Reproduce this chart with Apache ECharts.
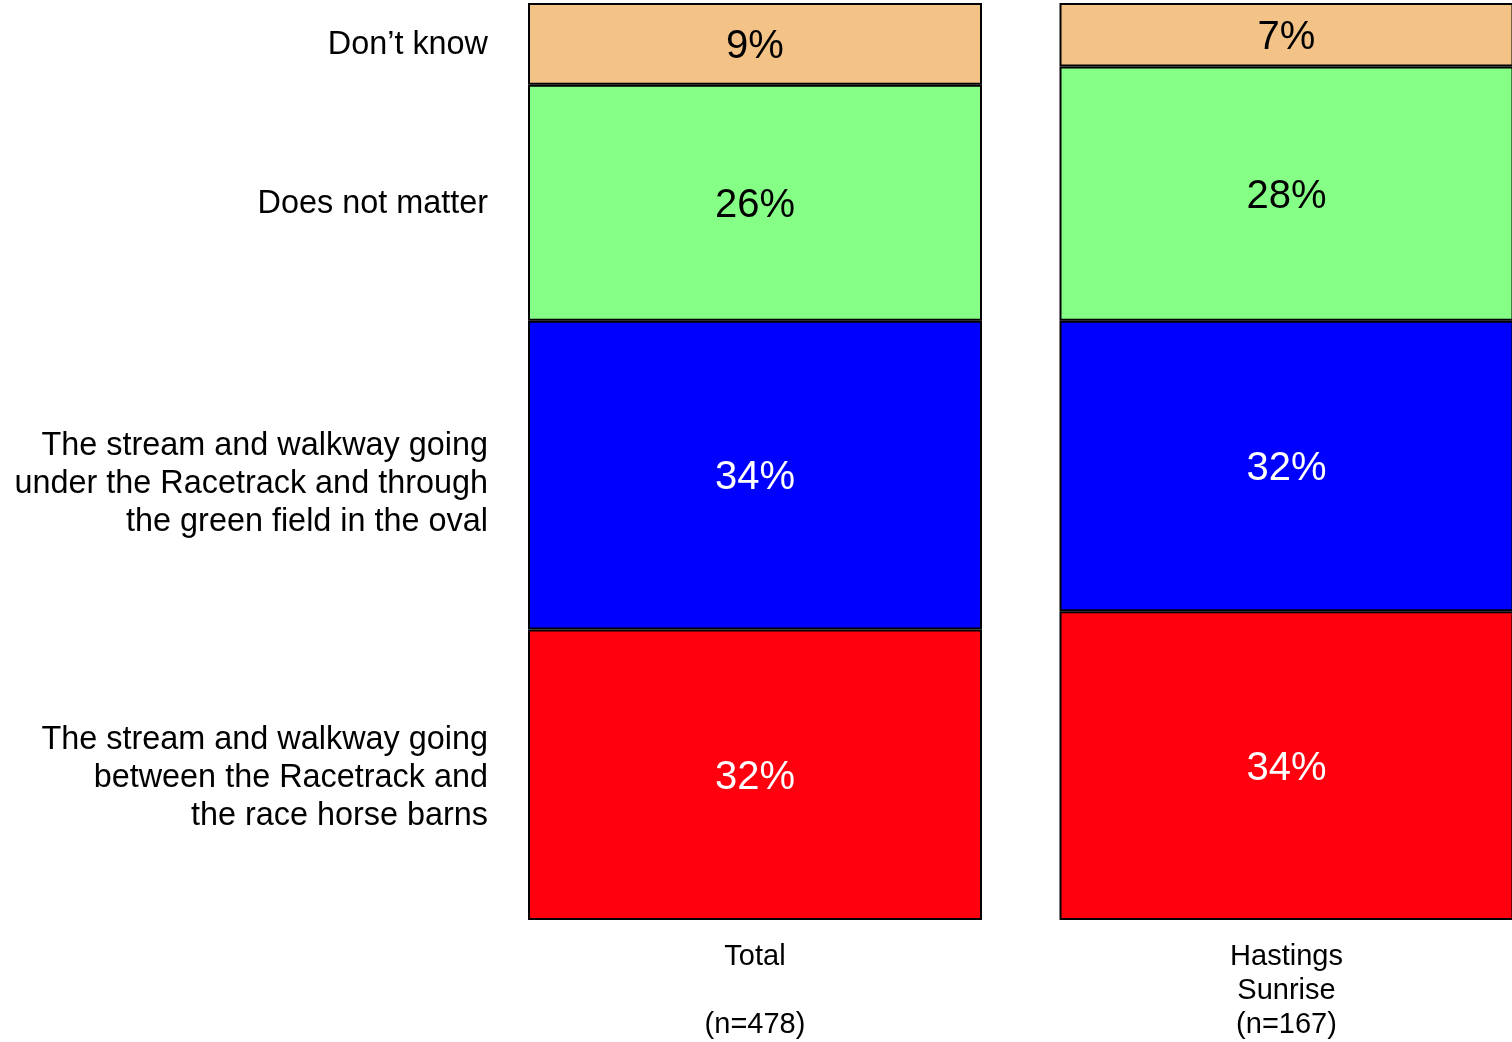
<!DOCTYPE html>
<html>
<head>
<meta charset="utf-8">
<script src="https://cdn.jsdelivr.net/npm/echarts@6/dist/echarts.min.js"></script>
<style>html,body{margin:0;padding:0;background:#fff;}#c{width:1512px;height:1042px;}</style>
</head>
<body>
<div id="c"></div>
<script>
var categories = ['Total\n\n(n=478)', 'Hastings\nSunrise\n(n=167)'];
var responseNames = [
  'The stream and walkway going\nbetween the Racetrack and\nthe race horse barns',
  'The stream and walkway going\nunder the Racetrack and through\nthe green field in the oval',
  'Does not matter',
  'Don\u2019t know'
];
var betweenBarns = [32, 34];
var underRacetrack = [34, 32];
var doesNotMatter = [26, 28];
var dontKnow = [9, 7];
var seriesValues = [betweenBarns, underRacetrack, doesNotMatter, dontKnow];
var colors = ['#ff000f', '#0000ff', '#85ff85', '#f2c287'];
var labelColors = ['#fff', '#fff', '#000', '#000'];
var FONT = '"Liberation Sans", Arial, sans-serif';

var chart = echarts.init(document.getElementById('c'), null, {renderer: 'canvas'});
var series = seriesValues.map(function (vals, i) {
  return {
    name: responseNames[i],
    type: 'bar',
    stack: 'all',
    barWidth: 454,
    clip: false,
    data: vals,
    itemStyle: {color: colors[i], borderColor: '#000', borderWidth: 2},
    label: {
      show: true,
      position: 'inside',
      offset: [0, 3],
      formatter: '{c}%',
      color: labelColors[i],
      fontSize: 40,
      fontFamily: FONT
    },
    emphasis: {disabled: true}
  };
});

chart.setOption({
  animation: false,
  grid: {left: 755, top: 3, right: 225.5, bottom: 120},
  xAxis: {
    type: 'category',
    data: categories,
    boundaryGap: false,
    axisLine: {show: false},
    axisTick: {show: false},
    axisLabel: {
      color: '#000', fontSize: 29, lineHeight: 34, fontFamily: FONT,
      margin: 20, verticalAlign: 'top', interval: 0
    }
  },
  yAxis: {type: 'value', min: 0, max: 101, show: false, splitLine: {show: false}},
  series: series
});

// left-side category labels at the midpoints of the Total bar segments
var labelNudgeY = [3, 9, 1, 1];
var graphics = [];
var cum = 0;
for (var i = 0; i < seriesValues.length; i++) {
  var v = seriesValues[i][0];
  var mid = cum + v / 2;
  cum += v;
  var py = chart.convertToPixel({yAxisIndex: 0}, mid);
  graphics.push({
    type: 'text',
    x: 488,
    y: py + labelNudgeY[i],
    style: {
      text: responseNames[i],
      align: 'right',
      verticalAlign: 'middle',
      fill: '#000',
      fontSize: 32.4,
      lineHeight: 38,
      fontFamily: FONT
    }
  });
}
chart.setOption({graphic: graphics});
</script>
</body>
</html>
